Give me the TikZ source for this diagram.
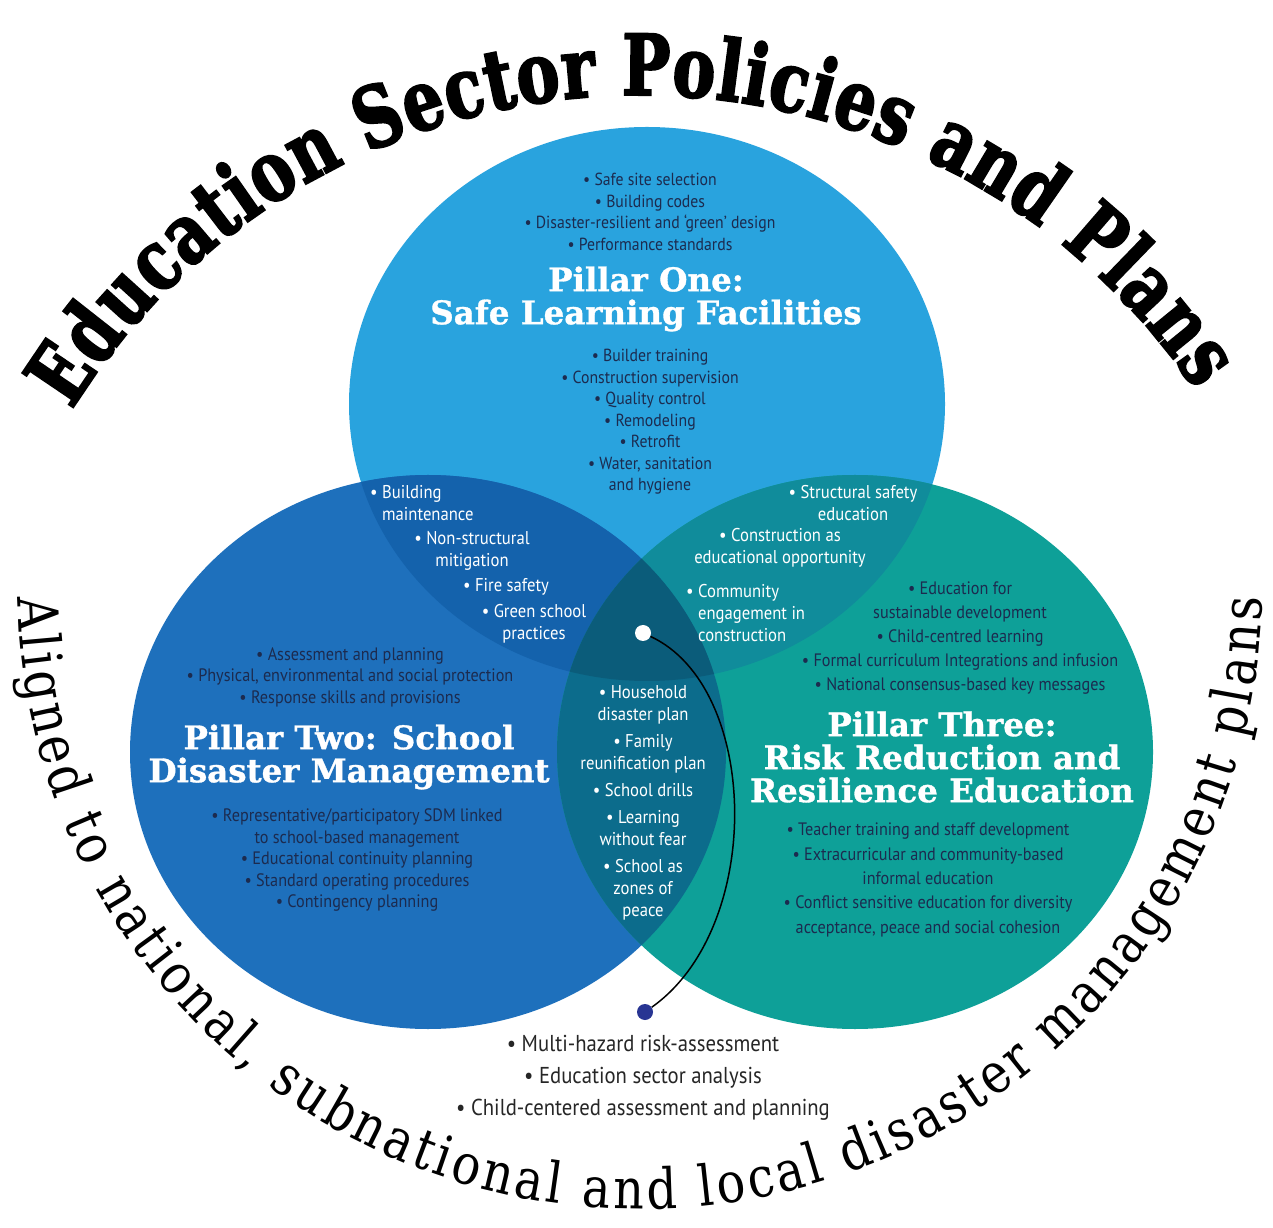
\documentclass[tikz,border=0pt]{standalone}
\usepackage{fontspec}
\usepackage{xcolor}
\usepackage{tikz}
\usetikzlibrary{positioning, decorations.text}

\newfontfamily\bodyfont[FakeStretch=0.9]{PT Sans}
\newfontfamily\headfont[BoldFeatures={FakeBold=1}]{DejaVu Serif}
\newfontfamily\titlefont[FakeStretch=0.76, BoldFeatures={FakeBold=2.5}]{DejaVu Serif}
\newfontfamily\arcfont[FakeStretch=0.85]{DejaVu Serif}

\definecolor{pilonecol}{HTML}{29A3DE}
\definecolor{piltwocol}{HTML}{1E70BC}
\definecolor{pilthreecol}{HTML}{0EA098}
\definecolor{onetwocol}{HTML}{1462AC}
\definecolor{onethreecol}{HTML}{108C9B}
\definecolor{twothreecol}{HTML}{0C6C8C}
\definecolor{allcol}{HTML}{0B5C7A}
\definecolor{inkcol}{HTML}{1C2B4F}
\definecolor{navydot}{HTML}{283593}

\tikzset{
    bullets/.style={
        font=\bodyfont\fontsize{17.5}{21.5}\selectfont,
        text=inkcol,
        align=center,
        inner sep=0pt
    },
    lens/.style={
        font=\bodyfont\fontsize{18.5}{22}\selectfont,
        text=white,
        align=center,
        inner sep=0pt
    },
    heading/.style={
        font=\headfont\bfseries\fontsize{32.5}{33}\selectfont,
        text=white,
        align=center,
        inner sep=0pt
    },
    dot/.style={
        circle,
        inner sep=0pt,
        minimum size=16pt
    },
    link/.style={
        line width=1.5pt,
        black
    }
}

\def\pilone{(647,823) ellipse (298pt and 277pt)}
\def\piltwo{(428,475) ellipse (298pt and 277pt)}
\def\pilthree{(855,475) ellipse (298pt and 277pt)}

\begin{document}
\begin{tikzpicture}[x=1pt, y=1pt]

\fill[white] (0,0) rectangle (1273,1227);
\useasboundingbox (0,0) rectangle (1273,1227);

%---------------- Circles ----------------

\fill[pilonecol] \pilone;
\fill[piltwocol] \piltwo;
\fill[pilthreecol] \pilthree;

\begin{scope}
\clip \pilone;
\fill[onetwocol] \piltwo;
\fill[onethreecol] \pilthree;
\end{scope}

\begin{scope}
\clip \piltwo;
\fill[twothreecol] \pilthree;
\end{scope}

\begin{scope}
\clip \pilone;
\clip \piltwo;
\fill[allcol] \pilthree;
\end{scope}

%---------------- Arc titles ----------------

\path[decorate, decoration={text along path,
    text={|\titlefont\bfseries\fontsize{84}{86}\selectfont|Education Sector Policies and Plans},
    text align={fit to path}}]
    (640,462) ++(148:670pt) arc[start angle=148, end angle=34, radius=670pt];

\path[decorate, decoration={text along path,
    text={|\arcfont\fontsize{56}{58}\selectfont|Aligned to national, subnational and local disaster management plans},
    text align={fit to path}}]
    (640,640) ++(181:622pt) arc[start angle=181, end angle=359, radius=622pt];

%---------------- Pillar One ----------------

\node[bullets] (onetop) at (650,1015) {• Safe site selection\\• Building codes\\• Disaster-resilient and ‘green’ design\\• Performance standards};
\node[heading] (onehead) at (646,928) {Pillar One:\\Safe Learning Facilities};
\node[bullets] (onebot) at (650,805) {• Builder training\\• Construction supervision\\• Quality control\\• Remodeling\\• Retrofit\\• Water, sanitation\\and hygiene};

%---------------- Overlaps ----------------

\node[lens, align=left, anchor=west] (maint) at (370,724) {• Building\\\phantom{• }maintenance};
\node[lens] (nonstruct) at (472,676) {• Non-structural\\mitigation};
\node[lens] (fire) at (506,640) {• Fire safety};
\node[lens] (green) at (534,603) {• Green school\\practices};

\node[lens] (structural) at (853,724) {• Structural safety\\education};
\node[lens] (construct) at (780,679) {• Construction as\\educational opportunity};
\node[lens, align=left, anchor=west] (community) at (686,614) {• Community\\\phantom{• }engagement in\\\phantom{• }construction};

\node[lens] (family) at (643,424) {• Household\\disaster plan\\[5pt]• Family\\reunification plan\\[5pt]• School drills\\[5pt]• Learning\\without fear\\[5pt]• School as\\zones of\\peace};

%---------------- Pillar Two ----------------

\node[bullets, font=\bodyfont\fontsize{18}{21.5}\selectfont] (twotop) at (350,550) {• Assessment and planning\\• Physical, environmental and social protection\\• Response skills and provisions};
\node[heading] (twohead) at (349,470) {Pillar Two: School\\Disaster Management};
\node[bullets, font=\bodyfont\fontsize{18}{21.5}\selectfont] (twobot) at (357,367) {• Representative/participatory SDM linked\\to school-based management\\• Educational continuity planning\\• Standard operating procedures\\• Contingency planning};

%---------------- Pillar Three ----------------

\node[bullets, font=\bodyfont\fontsize{18}{24}\selectfont] (threetop) at (960,589) {• Education for\\sustainable development\\• Child-centred learning\\• Formal curriculum Integrations and infusion\\• National consensus-based key messages};
\node[heading] (threehead) at (942,470) {Pillar Three:\\Risk Reduction and\\Resilience Education};
\node[bullets, font=\bodyfont\fontsize{18}{24.3}\selectfont] (threebot) at (928,347) {• Teacher training and staff development\\• Extracurricular and community-based\\informal education\\• Conflict sensitive education for diversity\\acceptance, peace and social cohesion};

%---------------- Foundation ----------------

\node[bullets, text=black!85, font=\bodyfont\fontsize{23}{32}\selectfont] (found) at (643,149) {• Multi-hazard risk-assessment\\• Education sector analysis\\• Child-centered assessment and planning};

\node[dot, fill=white] (dotw) at (643,594) {};
\node[dot, fill=navydot] (dotb) at (645,215) {};
\draw[link] (dotw) .. controls (760,540) and (765,300) .. (dotb);

\end{tikzpicture}
\end{document}
